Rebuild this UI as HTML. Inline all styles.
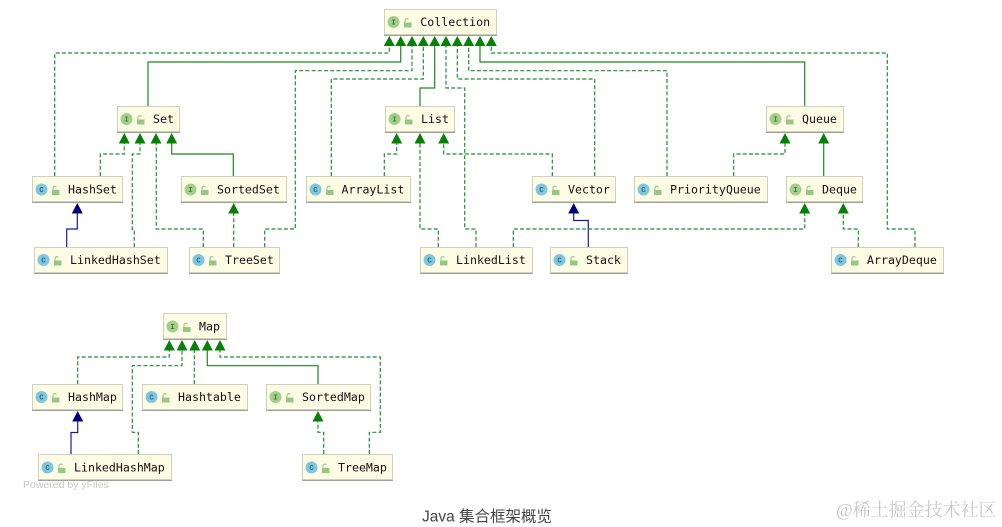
<!DOCTYPE html>
<html><head><meta charset="utf-8"><style>
html,body{margin:0;padding:0;background:#fff;width:1002px;height:527px;overflow:hidden}
svg{display:block;position:absolute;left:0;top:0}
.d,.s,.n{fill:none;stroke-width:1.2}
.d{stroke:#1b8f2f;stroke-dasharray:4 2.2}
.s{stroke:#1b8a1b}
.n{stroke:#1a1a96}
.a{fill:#088008}
.b{fill:#00007e}
.box{fill:#fdfde6;stroke:#d0d0bf;stroke-width:1;filter:drop-shadow(.6px 1px 0 #a0a096)}
.t{font:11.6px "DejaVu Sans Mono","Liberation Mono",monospace;fill:#111}
.ci{fill:#a3cf8c}.cc{fill:#7fc7de}
.il{font:bold 7.5px "Liberation Mono",monospace;text-anchor:middle}
.ci+.il{fill:#4d7a3a}.cc+.il{fill:#2a6c88}
.lk{fill:#96c883;x:19.5px;width:7.5px;height:5px}
.lks{fill:none;stroke:#96c883;stroke-width:1.1}
</style></head><body>
<svg width="1002" height="527" viewBox="0 0 1002 527" xmlns="http://www.w3.org/2000/svg">
<g style="filter:blur(.25px)">
<!-- connectors -->
<path class="d" d="M54.7 176V53H389.3V45"/>
<path class="s" d="M148 106V62H400.7V45"/>
<path class="d" d="M264.7 247V229H295.3V70.7H412V45"/>
<path class="d" d="M331.3 176V79H423.3V45"/>
<path class="s" d="M420 106V88H434.7V45"/>
<path class="d" d="M476 247V229H464.7V88H446V45"/>
<path class="d" d="M594.7 176V79H457.3V45"/>
<path class="d" d="M667 176V70.7H468.7V45"/>
<path class="s" d="M804.7 106V62H480V45"/>
<path class="d" d="M915 247V229H887.3V53H491.3V45"/>
<path class="d" d="M100.3 176V154H124.3V143"/>
<path class="d" d="M134.3 247V229.5H132.3V154H140V143"/>
<path class="d" d="M203.3 247V229H156.3V143"/>
<path class="s" d="M233.3 176V154H171.7V143"/>
<path class="n" d="M66.7 247V229H77.3V213"/>
<path class="d" d="M233.7 247V213"/>
<path class="d" d="M384.3 176V154H396.7V143"/>
<path class="d" d="M438.3 247V229H420V143"/>
<path class="d" d="M552.3 176V154H443.7V143"/>
<path class="n" d="M588.3 247V220.5H573.7V213"/>
<path class="d" d="M513.3 247V229H804.7V213"/>
<path class="d" d="M858.3 247V229H843.3V213"/>
<path class="d" d="M733.7 176V154H785V143"/>
<path class="s" d="M823.7 176V143"/>
<path class="d" d="M77.7 384V357H169.3V350"/>
<path class="d" d="M138.3 454V432.3H132.3V365.7H182V350"/>
<path class="d" d="M194.3 384V350"/>
<path class="s" d="M318 384V365.7H207.3V350"/>
<path class="d" d="M369.3 454V432.3H380.3V357H220V350"/>
<path class="n" d="M71 454V432.5H77.7V421"/>
<path class="d" d="M323.7 454V432.3H318V421"/>
<!-- arrowheads -->
<path class="a" d="M389.3 36l5.500 10h-11zM400.700 36l5.500 10h-11zM412 36l5.500 10h-11zM423.300 36l5.500 10h-11zM434.700 36l5.500 10h-11zM446 36l5.500 10h-11zM457.300 36l5.500 10h-11zM468.700 36l5.500 10h-11zM480 36l5.500 10h-11zM491.300 36l5.500 10h-11z"/>
<path class="a" d="M124.300 133l5.500 10.500h-11zM140 133l5.500 10.500h-11zM156 133l5.500 10.500h-11zM171.700 133l5.500 10.500h-11zM396.700 133l5.500 10.500h-11zM420 133l5.500 10.500h-11zM443.700 133l5.500 10.500h-11zM785 133l5.500 10.500h-11zM823.700 133l5.500 10.500h-11z"/>
<path class="a" d="M233.700 203l5.500 10.500h-11zM804.700 203l5.500 10.500h-11zM843.300 203l5.500 10.500h-11zM318 411l5.500 10.500h-11z"/>
<path class="a" d="M169.300 340l5.500 10.500h-11zM182 340l5.500 10.500h-11zM194.700 340l5.500 10.500h-11zM207.300 340l5.500 10.500h-11zM220 340l5.500 10.500h-11z"/>
<path class="b" d="M77.300 203l5.500 10.500h-11zM573.700 203l5.500 10.500h-11zM77.700 411l5.500 10.500h-11z"/>
<!-- nodes -->
<g transform="translate(384.500,9.500)"><rect class="box" width="112" height="25"/><circle class="ci" cx="9" cy="12.500" r="6"/><text class="il" x="9" y="15">I</text><rect class="lk" y="13"/><path class="lks" d="M20.500 13v-2.500a2 2 0 0 1 3.500 -.5"/><text class="t" x="35.800" y="16.500">Collection</text></g>
<g transform="translate(117.500,106.500)"><rect class="box" width="62" height="25"/><circle class="ci" cx="9" cy="12.500" r="6"/><text class="il" x="9" y="15">I</text><rect class="lk" y="13"/><path class="lks" d="M20.500 13v-2.500a2 2 0 0 1 3.500 -.5"/><text class="t" x="35.500" y="16.500">Set</text></g>
<g transform="translate(385.500,106.500)"><rect class="box" width="69" height="25"/><circle class="ci" cx="9" cy="12.500" r="6"/><text class="il" x="9" y="15">I</text><rect class="lk" y="13"/><path class="lks" d="M20.500 13v-2.500a2 2 0 0 1 3.500 -.5"/><text class="t" x="35.500" y="16.500">List</text></g>
<g transform="translate(766.500,106.500)"><rect class="box" width="77" height="25"/><circle class="ci" cx="9" cy="12.500" r="6"/><text class="il" x="9" y="15">I</text><rect class="lk" y="13"/><path class="lks" d="M20.500 13v-2.500a2 2 0 0 1 3.500 -.5"/><text class="t" x="35.500" y="16.500">Queue</text></g>
<g transform="translate(32.500,176.500)"><rect class="box" width="90" height="25"/><circle class="cc" cx="9" cy="13" r="6"/><text class="il" x="9" y="15.500">C</text><rect class="lk" y="13.500"/><path class="lks" d="M20.500 13.500v-2.500a2 2 0 0 1 3.500 -.5"/><text class="t" x="35.500" y="17">HashSet</text></g>
<g transform="translate(181.500,176.500)"><rect class="box" width="105" height="25"/><circle class="ci" cx="9" cy="13" r="6"/><text class="il" x="9" y="15.500">I</text><rect class="lk" y="13.500"/><path class="lks" d="M20.500 13.500v-2.500a2 2 0 0 1 3.500 -.5"/><text class="t" x="35.500" y="17">SortedSet</text></g>
<g transform="translate(306.500,176.500)"><rect class="box" width="104" height="25"/><circle class="cc" cx="9" cy="13" r="6"/><text class="il" x="9" y="15.500">C</text><rect class="lk" y="13.500"/><path class="lks" d="M20.500 13.500v-2.500a2 2 0 0 1 3.500 -.5"/><text class="t" x="35" y="17">ArrayList</text></g>
<g transform="translate(532.500,176.500)"><rect class="box" width="83" height="25"/><circle class="cc" cx="9" cy="13" r="6"/><text class="il" x="9" y="15.500">C</text><rect class="lk" y="13.500"/><path class="lks" d="M20.500 13.500v-2.500a2 2 0 0 1 3.500 -.5"/><text class="t" x="35.500" y="17">Vector</text></g>
<g transform="translate(634.500,176.500)"><rect class="box" width="133" height="25"/><circle class="cc" cx="9" cy="13" r="6"/><text class="il" x="9" y="15.500">C</text><rect class="lk" y="13.500"/><path class="lks" d="M20.500 13.500v-2.500a2 2 0 0 1 3.500 -.5"/><text class="t" x="35.500" y="17">PriorityQueue</text></g>
<g transform="translate(786.500,176.500)"><rect class="box" width="76" height="25"/><circle class="ci" cx="9" cy="13" r="6"/><text class="il" x="9" y="15.500">I</text><rect class="lk" y="13.500"/><path class="lks" d="M20.500 13.500v-2.500a2 2 0 0 1 3.500 -.5"/><text class="t" x="35.500" y="17">Deque</text></g>
<g transform="translate(34.500,247.500)"><rect class="box" width="133" height="25"/><circle class="cc" cx="9" cy="12.500" r="6"/><text class="il" x="9" y="15">C</text><rect class="lk" y="13"/><path class="lks" d="M20.500 13v-2.500a2 2 0 0 1 3.500 -.5"/><text class="t" x="35.500" y="16.500">LinkedHashSet</text></g>
<g transform="translate(189.500,247.500)"><rect class="box" width="90" height="25"/><circle class="cc" cx="9" cy="12.500" r="6"/><text class="il" x="9" y="15">C</text><rect class="lk" y="13"/><path class="lks" d="M20.500 13v-2.500a2 2 0 0 1 3.500 -.5"/><text class="t" x="35.500" y="16.500">TreeSet</text></g>
<g transform="translate(420.500,247.500)"><rect class="box" width="112" height="25"/><circle class="cc" cx="9" cy="12.500" r="6"/><text class="il" x="9" y="15">C</text><rect class="lk" y="13"/><path class="lks" d="M20.500 13v-2.500a2 2 0 0 1 3.500 -.5"/><text class="t" x="35.500" y="16.500">LinkedList</text></g>
<g transform="translate(550.500,247.500)"><rect class="box" width="77" height="25"/><circle class="cc" cx="9" cy="12.500" r="6"/><text class="il" x="9" y="15">C</text><rect class="lk" y="13"/><path class="lks" d="M20.500 13v-2.500a2 2 0 0 1 3.500 -.5"/><text class="t" x="35.500" y="16.500">Stack</text></g>
<g transform="translate(831.500,247.500)"><rect class="box" width="112" height="25"/><circle class="cc" cx="9" cy="12.500" r="6"/><text class="il" x="9" y="15">C</text><rect class="lk" y="13"/><path class="lks" d="M20.500 13v-2.500a2 2 0 0 1 3.500 -.5"/><text class="t" x="35.500" y="16.500">ArrayDeque</text></g>
<g transform="translate(163.500,313.500)"><rect class="box" width="63" height="25"/><circle class="ci" cx="9" cy="13" r="6"/><text class="il" x="9" y="15.500">I</text><rect class="lk" y="13.500"/><path class="lks" d="M20.500 13.500v-2.500a2 2 0 0 1 3.500 -.5"/><text class="t" x="35.500" y="17">Map</text></g>
<g transform="translate(32.500,384.500)"><rect class="box" width="90" height="25"/><circle class="cc" cx="9" cy="12.500" r="6"/><text class="il" x="9" y="15">C</text><rect class="lk" y="13"/><path class="lks" d="M20.500 13v-2.500a2 2 0 0 1 3.500 -.5"/><text class="t" x="35.500" y="16.500">HashMap</text></g>
<g transform="translate(142.500,384.500)"><rect class="box" width="105" height="25"/><circle class="cc" cx="9" cy="12.500" r="6"/><text class="il" x="9" y="15">C</text><rect class="lk" y="13"/><path class="lks" d="M20.500 13v-2.500a2 2 0 0 1 3.500 -.5"/><text class="t" x="35.500" y="16.500">Hashtable</text></g>
<g transform="translate(266.500,384.500)"><rect class="box" width="104" height="25"/><circle class="ci" cx="9" cy="12.500" r="6"/><text class="il" x="9" y="15">I</text><rect class="lk" y="13"/><path class="lks" d="M20.500 13v-2.500a2 2 0 0 1 3.500 -.5"/><text class="t" x="35.500" y="16.500">SortedMap</text></g>
<g transform="translate(38.500,454.500)"><rect class="box" width="133" height="25"/><circle class="cc" cx="9" cy="13" r="6"/><text class="il" x="9" y="15.500">C</text><rect class="lk" y="13.500"/><path class="lks" d="M20.500 13.500v-2.500a2 2 0 0 1 3.500 -.5"/><text class="t" x="35.500" y="17">LinkedHashMap</text></g>
<g transform="translate(302.500,454.500)"><rect class="box" width="90" height="25"/><circle class="cc" cx="9" cy="13" r="6"/><text class="il" x="9" y="15.500">C</text><rect class="lk" y="13.500"/><path class="lks" d="M20.500 13.500v-2.500a2 2 0 0 1 3.500 -.5"/><text class="t" x="35.500" y="17">TreeMap</text></g>
<text x="23" y="488" font-family="Liberation Sans, sans-serif" font-size="10.500" fill="#c9c9c9">Powered by yFiles</text>
</g>
<text x="422" y="521.500" font-family="'Liberation Sans','Noto Sans CJK SC',sans-serif" font-size="15.500" fill="#444">Java 集合框架概览</text>
<text x="836" y="516" font-family="'Liberation Serif','Noto Serif CJK SC',serif" font-size="18" fill="#c9c9c9">@稀土掘金技术社区</text>
</svg>
</body></html>
